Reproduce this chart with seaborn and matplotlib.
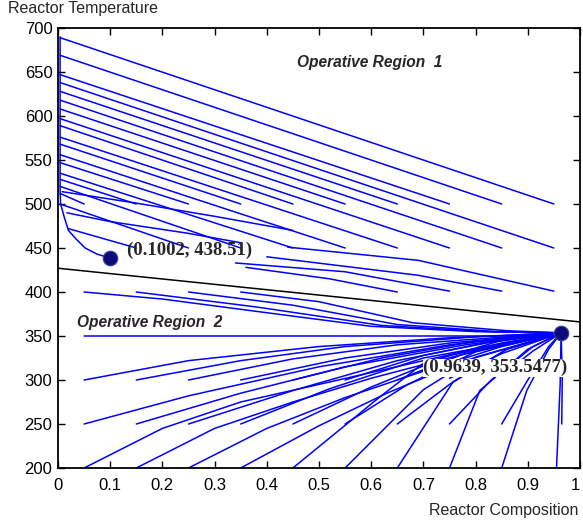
import pandas as pd
import seaborn as sns
import matplotlib.pyplot as plt

sns.set_style('ticks')
plt.rcParams['font.family'] = ['Liberation Sans', 'DejaVu Sans']

# equilibrium points
eq_x = [0.1002, 0.9639]
eq_T = [438.51, 353.5477]
eq_labels = ['(0.1002, 438.51)', '(0.9639, 353.5477)']

# switching line between the regions
sep_x = [0.0, 1.0]
sep_T = [427, 366]

# region 1: straight runs from grid points up to the x=0 wall
r1_x0 = [0.95, 0.85, 0.75, 0.65, 0.55, 0.45, 0.35, 0.25, 0.15, 0.05,
         0.95, 0.85, 0.75, 0.65, 0.55, 0.45, 0.35, 0.25, 0.15]
r1_T0 = [500, 500, 500, 500, 500, 500, 500, 500, 500, 500,
         450, 450, 450, 450, 450, 450, 450, 450, 450]
r1_xL = [0.004, 0.004, 0.004, 0.004, 0.004, 0.004, 0.004, 0.004, 0.004, 0.004,
         0.004, 0.004, 0.004, 0.004, 0.004, 0.004, 0.004, 0.004, 0.02]
r1_TL = [689, 669, 647, 628, 608, 589, 568, 547, 528, 512,
         638, 618, 597, 576, 556, 535, 520, 500, 472]

# region 1: shallow runs near the switching line
r1_low = [
    [(0.34, 433), (0.55, 423), (0.75, 401)],
    [(0.40, 440), (0.69, 419), (0.85, 401)],
    [(0.44, 451), (0.69, 436), (0.95, 401)],
    [(0.36, 428), (0.52, 415), (0.65, 400)],
    [(0.008, 514), (0.15, 501), (0.30, 486), (0.45, 470)],
    [(0.017, 490), (0.10, 480), (0.246, 467), (0.35, 456)],
]

# wall along x=0 and the approach to the first equilibrium
wall_x = [0.004, 0.004, 0.005, 0.012, 0.02, 0.035, 0.052, 0.075, 0.1002]
wall_T = [690, 515, 500, 485, 470, 460, 450, 443, 438.51]

# region 2 trajectories, grouped by starting temperature
r2_from200 = [
    [(0.05, 200), (0.20, 245), (0.35, 275), (0.50, 295), (0.70, 322), (0.85, 342)],
    [(0.15, 200), (0.30, 245), (0.45, 275), (0.60, 302), (0.80, 333)],
    [(0.25, 200), (0.40, 245), (0.55, 280), (0.70, 310), (0.85, 338)],
    [(0.35, 200), (0.50, 248), (0.63, 285), (0.78, 322)],
    [(0.45, 200), (0.617, 281), (0.70, 319), (0.85, 345)],
    [(0.55, 200), (0.70, 289), (0.80, 326)],
    [(0.65, 200), (0.757, 298), (0.86, 335)],
    [(0.75, 200), (0.808, 288), (0.90, 335)],
    [(0.85, 200), (0.898, 288), (0.94, 335)],
    [(0.955, 200), (0.962, 295)],
]
r2_from250 = [
    [(0.05, 250), (0.25, 282), (0.50, 315), (0.75, 340)],
    [(0.15, 250), (0.35, 285), (0.55, 315), (0.78, 340)],
    [(0.25, 250), (0.45, 288), (0.65, 322), (0.82, 342)],
    [(0.35, 250), (0.52, 290), (0.70, 325)],
    [(0.45, 250), (0.60, 292), (0.75, 328)],
    [(0.55, 250), (0.67, 295), (0.80, 332)],
    [(0.65, 250), (0.75, 295), (0.86, 335)],
    [(0.75, 250), (0.83, 300), (0.91, 338)],
    [(0.85, 250), (0.90, 300), (0.94, 338)],
    [(0.965, 250), (0.966, 300)],
]
r2_from300 = [
    [(0.05, 300), (0.25, 322), (0.50, 338), (0.75, 348)],
    [(0.15, 300), (0.35, 322), (0.55, 338), (0.80, 349)],
    [(0.25, 300), (0.45, 324), (0.65, 340)],
    [(0.35, 300), (0.55, 325), (0.75, 342)],
    [(0.45, 300), (0.62, 325), (0.80, 344)],
    [(0.55, 300), (0.70, 328), (0.85, 346)],
    [(0.65, 300), (0.77, 328), (0.90, 347)],
    [(0.75, 302), (0.85, 330)],
    [(0.85, 305), (0.91, 333)],
]
r2_from350 = [
    [(0.05, 350), (0.95, 350)],
]
r2_from400 = [
    [(0.05, 400), (0.20, 392), (0.38, 378), (0.60, 361), (0.80, 355)],
    [(0.15, 400), (0.38, 383), (0.62, 362), (0.82, 355)],
    [(0.25, 400), (0.45, 385), (0.65, 363), (0.84, 355)],
    [(0.35, 400), (0.50, 389), (0.68, 365), (0.86, 356)],
]

x_ticks = [0, 0.1, 0.2, 0.3, 0.4, 0.5, 0.6, 0.7, 0.8, 0.9, 1.0]
x_labels = ['0', '0.1', '0.2', '0.3', '0.4', '0.5', '0.6', '0.7', '0.8', '0.9', '1']
y_ticks = [200, 250, 300, 350, 400, 450, 500, 550, 600, 650, 700]

# long table of all trajectories
rows = []
tid = 0
for a, b, c, d in zip(r1_x0, r1_T0, r1_xL, r1_TL):
    rows += [(tid, a, b), (tid, c, d)]
    tid += 1
for path in r1_low:
    rows += [(tid, px, pt) for px, pt in path]
    tid += 1
rows += [(tid, px, pt) for px, pt in zip(wall_x, wall_T)]
tid += 1
for group in [r2_from200, r2_from250, r2_from300, r2_from350, r2_from400]:
    for path in group:
        rows += [(tid, px, pt) for px, pt in path]
        rows.append((tid, eq_x[1], eq_T[1]))
        tid += 1
df = pd.DataFrame(rows, columns=['traj', 'x', 'T'])

fig = plt.figure(figsize=(5.83, 5.26), dpi=100)
ax = fig.add_axes([58 / 583, 1 - 468 / 526, 522 / 583, 440 / 526])

sns.lineplot(data=df, x='x', y='T', units='traj', estimator=None, sort=False,
             color='#0000ff', lw=1.1, ax=ax, legend=False)
sns.lineplot(x=sep_x, y=sep_T, color='black', lw=1.1, ax=ax)
sns.scatterplot(x=eq_x, y=eq_T, s=110, color='#0c0c78', edgecolor='#4040a0',
                linewidth=0.8, zorder=5, ax=ax)

ax.text(0.132, 447, eq_labels[0], family='Liberation Serif', weight='bold',
        fontsize=13.5, va='center', zorder=6)
ax.text(0.699, 314, eq_labels[1], family='Liberation Serif', weight='bold',
        fontsize=13.5, va='center', zorder=6,
        bbox=dict(facecolor='white', edgecolor='none', pad=0.3))
ax.text(0.458, 661, 'Operative Region  1', style='italic', weight='bold',
        fontsize=11.2, va='center')
ax.text(0.036, 365, 'Operative Region  2', style='italic', weight='bold',
        fontsize=11.2, va='center')

ax.set_xlim(0, 1)
ax.set_ylim(200, 700)
ax.set_xticks(x_ticks)
ax.set_xticklabels(x_labels)
ax.set_yticks(y_ticks)
ax.set_xlabel('')
ax.set_ylabel('')
ax.tick_params(direction='in', top=True, right=True, length=5, width=1,
               labelsize=12, colors='black')
ax.tick_params(axis='x', pad=7)
ax.tick_params(axis='y', pad=4)
ax.get_xticklabels()[-1].set_horizontalalignment('right')
for s in ax.spines.values():
    s.set_linewidth(1.3)
    s.set_color('black')

fig.text(8 / 583, 1 - 9 / 526, 'Reactor Temperature', fontsize=11.5, va='center')
fig.text(578 / 583, 1 - 510 / 526, 'Reactor Composition', fontsize=11.5,
         va='center', ha='right')

fig.savefig('out.png', dpi=100)
